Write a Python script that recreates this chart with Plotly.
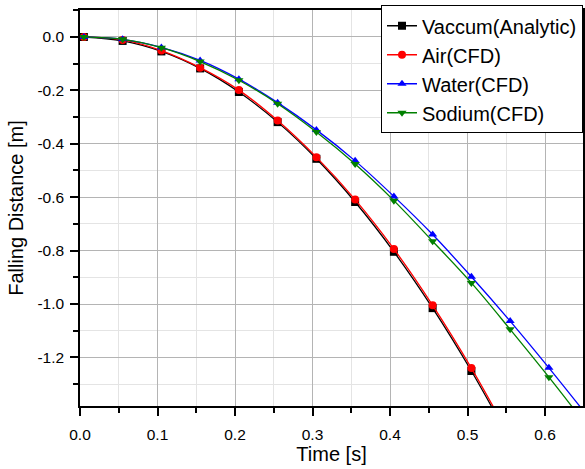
import plotly.graph_objects as go

time_s = [0.005, 0.055, 0.105, 0.155, 0.205, 0.255, 0.305, 0.355, 0.405, 0.455, 0.505, 0.555, 0.605, 0.655]

vacuum = [-0.0001, -0.0148, -0.0541, -0.1178, -0.2061, -0.3189, -0.4563, -0.6181, -0.8045, -1.0155, -1.2509, -1.5109]
air = [0.0, -0.011, -0.051, -0.115, -0.199, -0.313, -0.450, -0.609, -0.794, -1.005, -1.240, -1.500]
water = [0.0, -0.009, -0.039, -0.088, -0.158, -0.246, -0.348, -0.464, -0.597, -0.740, -0.898, -1.064, -1.239, -1.420]
sodium = [0.0, -0.009, -0.040, -0.092, -0.162, -0.250, -0.356, -0.476, -0.613, -0.765, -0.921, -1.095, -1.274, -1.460]

x_ticks = [0.0, 0.1, 0.2, 0.3, 0.4, 0.5, 0.6]
x_tick_labels = ["0.0", "0.1", "0.2", "0.3", "0.4", "0.5", "0.6"]
y_ticks = [0.0, -0.2, -0.4, -0.6, -0.8, -1.0, -1.2]
y_tick_labels = ["0.0", "-0.2", "-0.4", "-0.6", "-0.8", "-1.0", "-1.2"]
y_minor_ticks = [0.1, -0.1, -0.3, -0.5, -0.7, -0.9, -1.1, -1.3]

series = [
    ("Vaccum(Analytic)", vacuum, "black", "square"),
    ("Air(CFD)", air, "red", "circle"),
    ("Water(CFD)", water, "blue", "triangle-up"),
    ("Sodium(CFD)", sodium, "green", "triangle-down"),
]

fig = go.Figure()
for name, vals, color, sym in series:
    fig.add_trace(go.Scatter(
        x=time_s[:len(vals)], y=vals, name=name, mode="lines+markers",
        line=dict(color=color, width=1.3, shape="spline"),
        marker=dict(color=color, symbol=sym, size=8),
        cliponaxis=True,
    ))

font = "Liberation Sans, Arial, sans-serif"
fig.update_layout(
    width=585, height=469,
    margin=dict(l=80, r=0, t=10, b=63),
    paper_bgcolor="white", plot_bgcolor="white",
    font=dict(family=font, color="black"),
    showlegend=True,
    legend=dict(
        x=1, y=1.012, xanchor="right", yanchor="top",
        bordercolor="black", borderwidth=1, bgcolor="white",
        font=dict(size=20, family=font, color="black"),
        tracegroupgap=0, itemwidth=30,
    ),
    xaxis=dict(
        range=[0, 0.649], tickvals=x_ticks, ticktext=x_tick_labels,
        showline=True, linecolor="black", linewidth=1.5, mirror=True,
        ticks="outside", ticklen=8, tickwidth=1.5, tickcolor="black",
        showgrid=True, gridcolor="#b4b4b4", gridwidth=1,
        minor=dict(dtick=0.05, ticks="outside", ticklen=5, tickwidth=1.5, tickcolor="black",
                   showgrid=True, gridcolor="#e4e4e4", gridwidth=1),
        tickfont=dict(size=15.5), zeroline=False, ticklabelstandoff=6,
        title=dict(text="Time [s]", font=dict(size=20), standoff=4),
    ),
    yaxis=dict(
        range=[-1.382, 0.101], tickvals=y_ticks, ticktext=y_tick_labels,
        showline=True, linecolor="black", linewidth=1.5, mirror=True,
        ticks="outside", ticklen=8, tickwidth=1.5, tickcolor="black",
        showgrid=True, gridcolor="#b4b4b4", gridwidth=1,
        minor=dict(tickvals=y_minor_ticks, ticks="outside", ticklen=5,
                   tickwidth=1.5, tickcolor="black", showgrid=True, gridcolor="#e4e4e4", gridwidth=1),
        tickfont=dict(size=15.5), zeroline=False, ticklabelstandoff=3,
        title=dict(text="Falling Distance [m]", font=dict(size=20), standoff=8),
    ),
)

fig.write_html("out.html", config={"displayModeBar": False},
               post_script="document.body.style.margin='0px';")
